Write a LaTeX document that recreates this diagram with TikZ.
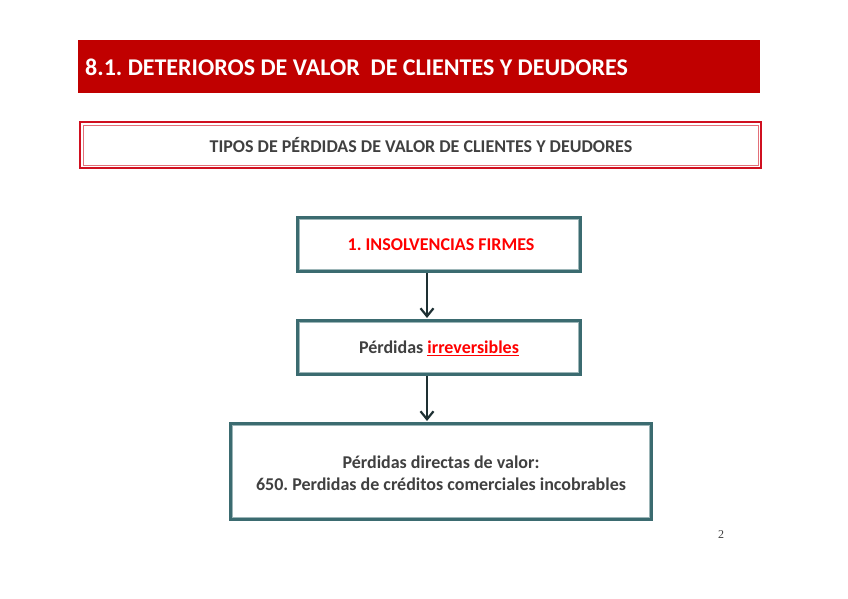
\documentclass[tikz,border=0pt]{standalone}
\usepackage{fontspec}
\setmainfont{Carlito}
\newfontfamily\serifnum{Liberation Serif}
\usetikzlibrary{arrows.meta}
\definecolor{titlered}{HTML}{C00000}
\definecolor{boxred}{HTML}{D01020}
\definecolor{tealb}{HTML}{3B6B70}
\definecolor{tealin}{HTML}{9DB6B8}
\definecolor{darktxt}{HTML}{404040}
\definecolor{arrowc}{HTML}{1E3033}
\frenchspacing
\begin{document}
\begin{tikzpicture}[x=1pt,y=-1pt,
  flowtxt/.style={font=\bfseries\fontsize{18}{22}\selectfont, text=darktxt, align=center},
  flowarrow/.style={draw=arrowc, line width=2.2pt, -{Straight Barb[length=8pt,width=13pt,line width=2.2pt]}}]
\useasboundingbox (0,0) rectangle (848,599);
% title bar
\fill[titlered] (78,40) rectangle (760,93);
\node[anchor=west, text=white, font=\bfseries\fontsize{24}{28}\selectfont, inner sep=0pt] (title) at (85,67) {8.1. DETERIOROS DE VALOR\ \ DE CLIENTES Y DEUDORES};
% subtitle box
\draw[boxred, line width=2pt] (80,122) rectangle (761,168);
\draw[boxred!60, line width=0.8pt] (83,125) rectangle (758,165);
\node[font=\bfseries\fontsize{18}{22}\selectfont, text=darktxt] (sub) at (421,145) {TIPOS DE PÉRDIDAS DE VALOR DE CLIENTES Y DEUDORES};
% flow boxes
\draw[tealb, line width=3pt, fill=white] (297.5,217.5) rectangle (580.5,271.5);
\draw[tealin, line width=0.8pt] (299.5,219.5) rectangle (578.5,269.5);
\node[flowtxt, text=red] (b1) at (441,245) {1. INSOLVENCIAS FIRMES};
\coordinate (b1s) at (427,273);
\coordinate (b2n) at (427,318);
\draw[tealb, line width=3pt, fill=white] (297.5,320.5) rectangle (580.5,374.5);
\draw[tealin, line width=0.8pt] (299.5,322.5) rectangle (578.5,372.5);
\node[flowtxt] (b2) at (439,348) {Pérdidas \textcolor{red}{\underline{irreversibles}}};
\coordinate (b2s) at (427,376);
\coordinate (b3n) at (427,421);
\draw[tealb, line width=3pt, fill=white] (230.5,423.5) rectangle (651.5,519.5);
\draw[tealin, line width=0.8pt] (232.5,425.5) rectangle (649.5,517.5);
\node[flowtxt, align=center] (b3) at (441,473) {Pérdidas directas de valor:\\[0pt]650. Perdidas de créditos comerciales incobrables};
\draw[flowarrow] (b1s) -- (b2n);
\draw[flowarrow] (b2s) -- (b3n);
% page number
\node[font=\serifnum\fontsize{12}{14}\selectfont, text=darktxt] (pg) at (721,535) {2};
\end{tikzpicture}
\end{document}
